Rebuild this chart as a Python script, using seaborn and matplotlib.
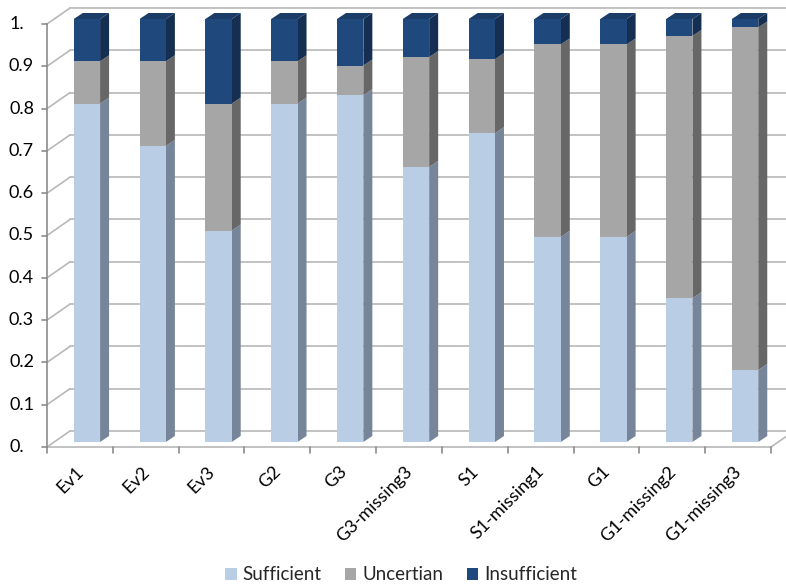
import numpy as np
import pandas as pd
import matplotlib
matplotlib.use("Agg")
import matplotlib.pyplot as plt
import seaborn as sns
from matplotlib.patches import Polygon
from matplotlib.lines import Line2D
from matplotlib.transforms import ScaledTranslation, blended_transform_factory

# ---------------- data ----------------
categories = ["Ev1", "Ev2", "Ev3", "G2", "G3", "G3-missing3", "S1",
              "S1-missing1", "G1", "G1-missing2", "G1-missing3"]
sufficient = [0.80, 0.70, 0.50, 0.80, 0.82, 0.65, 0.73, 0.485, 0.485, 0.34, 0.17]
uncertain = [0.10, 0.20, 0.30, 0.10, 0.07, 0.26, 0.175, 0.455, 0.455, 0.62, 0.81]
insufficient = [0.10, 0.10, 0.20, 0.10, 0.11, 0.09, 0.095, 0.06, 0.06, 0.04, 0.02]
series_names = ["Sufficient", "Uncertian", "Insufficient"]
ytick_values = [0.0, 0.1, 0.2, 0.3, 0.4, 0.5, 0.6, 0.7, 0.8, 0.9, 1.0]
ytick_labels = ["0.", "0.1", "0.2", "0.3", "0.4", "0.5", "0.6", "0.7", "0.8", "0.9", "1."]

# ---------------- style ----------------
front_colors = ["#B9CDE5", "#A6A6A6", "#1F497D"]
side_colors = ["#76859A", "#676767", "#152F52"]
top_color = "#1B3C67"
grid_color = "#B8B8B8"
axis_color = "#8C8C8C"

sns.set_style("white")
plt.rcParams['font.family'] = ['Lato', 'DejaVu Sans']
FS = 13
LFS = 13.5

W, H = 786, 587
fig = plt.figure(figsize=(W / 100, H / 100), dpi=100)
ax = fig.add_axes([54 / W, (H - 442) / H, 724 / W, 423 / H])

n = len(categories)
pxx = 724 / n      # pixels per category unit
pxy = 423.0        # pixels per value unit


def off(dxp, dyp):
    return dxp / pxx, dyp / pxy


front = off(-7, -5)
back = off(16, 11)
depth = off(9, 6)

# ---------------- stacked bars ----------------
segments = [sufficient, uncertain, insufficient]
bottoms = np.zeros(n)
containers = []
for vals, name, col in zip(segments, series_names, front_colors):
    df = pd.DataFrame({"cat": categories, "val": vals})
    sns.barplot(data=df, x="cat", y="val", order=categories, bottom=bottoms.copy(),
                color=col, saturation=1, width=0.4, ax=ax, label=name,
                linewidth=0, zorder=3)
    containers.append(ax.containers[-1])
    bottoms = bottoms + np.array(vals)

if ax.get_legend() is not None:
    ax.get_legend().remove()

ax.set_xlim(-0.5, n - 0.5)
ax.set_ylim(0, 1)
ax.axis("off")

# 3D side / top faces derived from the drawn bars
for k, cont in enumerate(containers):
    for p in cont.patches:
        x0, y0 = p.get_x(), p.get_y()
        w, h = p.get_width(), p.get_height()
        x1, y1 = x0 + w, y0 + h
        side = Polygon([(x1, y0), (x1 + depth[0], y0 + depth[1]),
                        (x1 + depth[0], y1 + depth[1]), (x1, y1)],
                       closed=True, facecolor=side_colors[k], edgecolor="none",
                       zorder=2.5, clip_on=False)
        ax.add_patch(side)
        if k == len(containers) - 1:
            top = Polygon([(x0, y1), (x1, y1), (x1 + depth[0], y1 + depth[1]),
                           (x0 + depth[0], y1 + depth[1])],
                          closed=True, facecolor=top_color, edgecolor="none",
                          zorder=2.5, clip_on=False)
            ax.add_patch(top)

# ---------------- walls / gridlines ----------------
xl, xr = -0.5, n - 0.5
for v in ytick_values:
    ax.add_line(Line2D([xl + back[0], xr + back[0] + 1], [v + back[1], v + back[1]],
                       color=grid_color, lw=1.2, zorder=0, clip_on=False))
    ax.add_line(Line2D([xl + front[0], xl + back[0]], [v + front[1], v + back[1]],
                       color=grid_color, lw=1.2, zorder=0, clip_on=False))
# floor
ax.add_line(Line2D([xl + front[0], xr + front[0]], [front[1], front[1]],
                   color=grid_color, lw=1.2, zorder=1, clip_on=False))
ax.add_line(Line2D([xr + front[0], xr + back[0]], [front[1], back[1]],
                   color=grid_color, lw=1.2, zorder=1, clip_on=False))
# vertical value axis
ax.add_line(Line2D([xl + front[0], xl + front[0]], [front[1], 1 + front[1]],
                   color=axis_color, lw=1.2, zorder=1, clip_on=False))
tick_dx = 5 / pxx
tick_dy = 6 / pxy
for v in ytick_values:
    ax.add_line(Line2D([xl + front[0] - tick_dx, xl + front[0]], [v + front[1], v + front[1]],
                       color=axis_color, lw=1.2, zorder=1, clip_on=False))
for b in np.arange(n + 1) - 0.5:
    ax.add_line(Line2D([b + front[0], b + front[0]], [front[1], front[1] - tick_dy],
                       color=axis_color, lw=1.2, zorder=1, clip_on=False))

# ---------------- tick labels ----------------
ylab_tr = blended_transform_factory(fig.transFigure, ax.transData) + \
    ScaledTranslation(0, -5 / 100, fig.dpi_scale_trans)
for v, lab in zip(ytick_values, ytick_labels):
    xr_px = 24 if lab.endswith(".") else 34
    fig.text(xr_px / W, v, lab, transform=ylab_tr, ha="right", va="center",
             fontsize=FS, color="black")

xlab_tr = ax.transData + ScaledTranslation(-6 / 100, -27 / 100, fig.dpi_scale_trans)
for i, lab in enumerate(categories):
    ax.text(i, 0, lab, transform=xlab_tr, rotation=45, rotation_mode="anchor",
            ha="right", va="center", fontsize=FS, color="black", clip_on=False)

# ---------------- legend ----------------
handles = [c.patches[0] for c in containers]
fig.legend(handles, series_names, loc="center", bbox_to_anchor=(401 / W, 1 - 575 / H),
           ncol=3, frameon=False, fontsize=LFS, handlelength=0.6, handleheight=0.6,
           handletextpad=0.32, columnspacing=1.25, borderaxespad=0, borderpad=0)

fig.savefig("out.png", dpi=100)
